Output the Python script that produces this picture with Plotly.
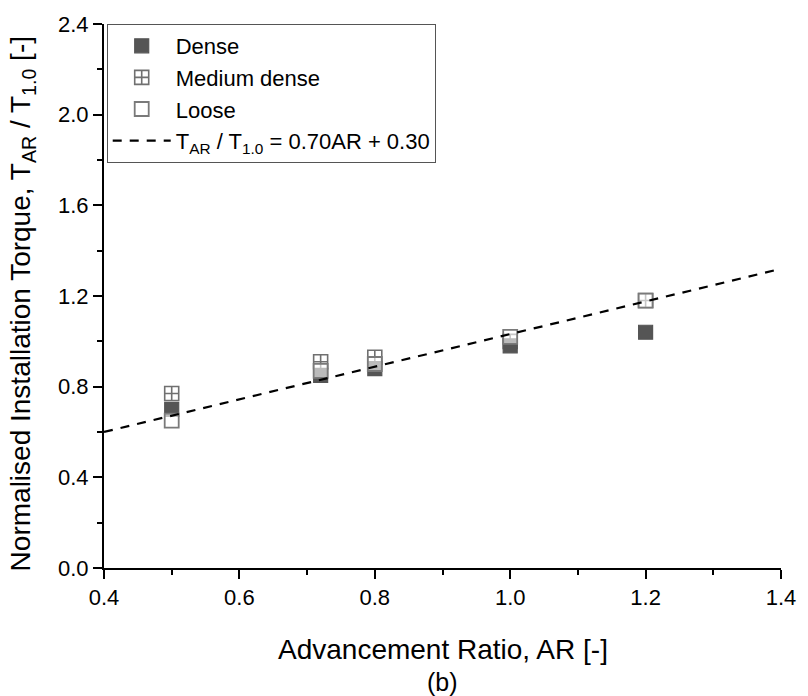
import plotly.graph_objects as go

# Data
ar = [0.5, 0.72, 0.8, 1.0, 1.2]
dense = [0.70, 0.85, 0.88, 0.98, 1.04]
medium = [0.77, 0.91, 0.93, 1.00, 1.18]
loose = [0.65, 0.87, 0.90, 1.02, 1.18]
fit_x = [0.4, 1.4]
fit_y = [0.60, 1.32]

x_ticks = [0.4, 0.6, 0.8, 1.0, 1.2, 1.4]
y_ticks = [0.0, 0.4, 0.8, 1.2, 1.6, 2.0, 2.4]

FONT = "Arial, Liberation Sans, sans-serif"

fig = go.Figure()
fig.add_trace(go.Scatter(
    x=ar, y=medium, mode="markers", name="Medium dense", legendrank=2,
    marker=dict(symbol="square-cross-open", size=14, color="#707070",
                line=dict(width=1.6, color="#707070"))))
fig.add_trace(go.Scatter(
    x=ar, y=dense, mode="markers", name="Dense", legendrank=1,
    marker=dict(symbol="square", size=14, color="#555555",
                line=dict(width=1.2, color="#555555"))))
fig.add_trace(go.Scatter(
    x=ar, y=loose, mode="markers", name="Loose", legendrank=3,
    marker=dict(symbol="square", size=14, color="rgba(255,255,255,0.6)",
                line=dict(width=1.8, color="#7a7a7a"))))
fig.add_trace(go.Scatter(
    x=fit_x, y=fit_y, mode="lines", legendrank=4,
    name="T<sub>AR</sub> / T<sub>1.0</sub> = 0.70AR + 0.30",
    line=dict(color="black", width=2.2, dash="9px,8px")))

fig.update_layout(
    width=808, height=696,
    margin=dict(l=104, r=22, t=17, b=128),
    paper_bgcolor="white", plot_bgcolor="white",
    font=dict(family=FONT, color="black", size=22),
    showlegend=True,
    legend=dict(x=0.004, y=1.0, xanchor="left", yanchor="top",
                bgcolor="white", bordercolor="#555555", borderwidth=1,
                font=dict(size=22, family=FONT), itemwidth=58,
                tracegroupgap=0),
    xaxis=dict(range=[0.4, 1.4], tickvals=x_ticks,
               ticktext=[f"{v:.1f}" for v in x_ticks],
               showgrid=False, zeroline=False, showline=True,
               linecolor="black", linewidth=2, ticks="outside",
               ticklen=9, tickwidth=2, tickcolor="black",
               tickfont=dict(size=22, family=FONT),
               minor=dict(ticks="outside", ticklen=5, tickwidth=2,
                          tickcolor="black", dtick=0.1, showgrid=False)),
    yaxis=dict(range=[0, 2.4], tickvals=y_ticks,
               ticktext=[f"{v:.1f}" for v in y_ticks],
               showgrid=False, zeroline=False, showline=True,
               linecolor="black", linewidth=2, ticks="outside",
               ticklen=9, tickwidth=2, tickcolor="black",
               tickfont=dict(size=22, family=FONT),
               minor=dict(ticks="outside", ticklen=5, tickwidth=2,
                          tickcolor="black", dtick=0.2, showgrid=False)),
)

fig.add_annotation(text="Normalised Installation Torque, T<sub>AR</sub> / T<sub>1.0</sub> [-]",
                   xref="paper", yref="paper", x=-0.12, y=0.486,
                   xanchor="center", yanchor="middle", textangle=-90,
                   showarrow=False, font=dict(size=28, family=FONT))
fig.add_annotation(text="Advancement Ratio, AR [-]", xref="paper", yref="paper",
                   x=0.5, y=-0.149, yanchor="middle", showarrow=False,
                   font=dict(size=28, family=FONT))
fig.add_annotation(text="(b)", xref="paper", yref="paper",
                   x=0.5, y=-0.209, yanchor="middle", showarrow=False,
                   font=dict(size=25, family=FONT))

fig.write_html("out.html")
